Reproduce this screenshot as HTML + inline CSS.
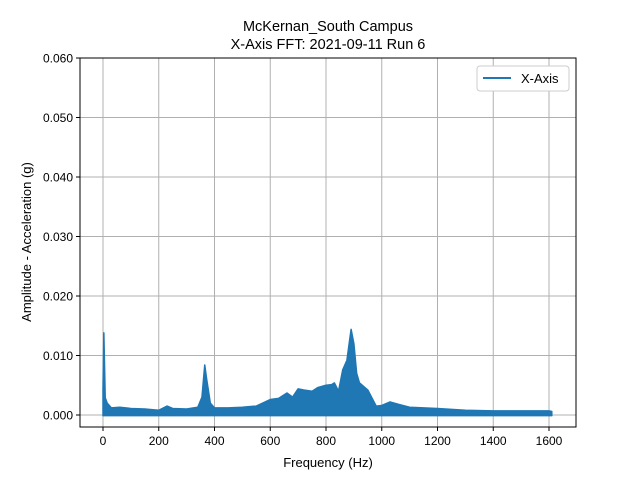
<!DOCTYPE html>
<html><head><meta charset="utf-8"><style>body{margin:0;background:#fff}svg{display:block;font-family:"Liberation Sans","DejaVu Sans",sans-serif}</style></head>
<body>
<svg id="chart" width="640" height="480" xmlns="http://www.w3.org/2000/svg">
<rect width="640" height="480" fill="#fff"/>
<text x="328" y="31" text-anchor="middle" font-size="14.5">McKernan_South Campus</text>
<text x="328" y="49" text-anchor="middle" font-size="14.5">X-Axis FFT: 2021-09-11 Run 6</text>
<g id="grid"></g><g id="series"></g><g id="axes"></g>
<rect x="80" y="58" width="496" height="369" fill="none" stroke="#000" stroke-width="1"/>
<text x="328" y="467" text-anchor="middle" font-size="13">Frequency (Hz)</text>
<text transform="translate(31,242) rotate(-90)" text-anchor="middle" font-size="13">Amplitude - Acceleration (g)</text>
<g>
<rect x="477" y="66" width="92" height="25" rx="3" fill="#fff" stroke="#ccc"/>
<line x1="483" y1="78" x2="511" y2="78" stroke="#1f77b4" stroke-width="2"/>
<text x="521" y="83" font-size="13">X-Axis</text>
</g>
</svg>
<script>
const freqs = [0,3,8,15,30,60,100,150,200,230,250,300,340,355,365,372,385,400,450,500,550,600,630,660,680,700,720,750,770,800,820,830,845,860,875,890,900,910,920,950,980,1000,1030,1060,1100,1150,1200,1300,1400,1500,1600,1610];
const upper = [0.0045,0.0138,0.0029,0.0020,0.0012,0.0013,0.0011,0.0010,0.0008,0.0015,0.0011,0.0010,0.0013,0.0030,0.0084,0.0060,0.0020,0.0012,0.0012,0.0013,0.0015,0.0026,0.0028,0.0037,0.0030,0.0044,0.0042,0.0040,0.0046,0.0050,0.0051,0.0054,0.0040,0.0076,0.0092,0.0144,0.0120,0.0070,0.0054,0.0042,0.0015,0.0016,0.0022,0.0018,0.0013,0.0012,0.0011,0.0008,0.0007,0.0007,0.0007,0.0006];
const lower = [-0.0001,-0.0001,-0.0001,-0.0001,-0.0001,-0.0001,-0.0001,-0.0001,-0.0001,-0.0001,-0.0001,-0.0001,-0.0001,-0.0001,-0.0001,-0.0001,-0.0001,-0.0001,-0.0001,-0.0001,-0.0001,-0.0001,-0.0001,-0.0001,-0.0001,-0.0001,-0.0001,-0.0001,-0.0001,-0.0001,-0.0001,-0.0001,-0.0001,-0.0001,-0.0001,-0.0001,-0.0001,-0.0001,-0.0001,-0.0001,-0.0001,-0.0001,-0.0001,-0.0001,-0.0001,-0.0001,-0.0001,-0.0001,-0.0001,-0.0001,-0.0001,-0.0001];
const xTicks = [0,200,400,600,800,1000,1200,1400,1600];
const yTicks = [0,0.01,0.02,0.03,0.04,0.05,0.06];
const X = f => 103 + f*0.27875;
const Y = v => 415 - v*5950;
const NS = "http://www.w3.org/2000/svg";
function mk(tag, attrs, parent){const e=document.createElementNS(NS,tag);for(const k in attrs)e.setAttribute(k,attrs[k]);parent.appendChild(e);return e;}
const grid=document.getElementById('grid'), axes=document.getElementById('axes'), series=document.getElementById('series');
xTicks.forEach(t=>{
  const g=mk('line',{x1:X(t),x2:X(t),y1:58,y2:427,stroke:'#b0b0b0','stroke-width':1},grid);
  
  
  mk('line',{x1:X(t),x2:X(t),y1:427,y2:431,stroke:'#000'},axes);
  const tx=mk('text',{x:X(t),y:445,'text-anchor':'middle','font-size':12},axes);
  tx.textContent=t;
  
  
});
yTicks.forEach(t=>{
  const g=mk('line',{x1:80,x2:576,y1:Y(t),y2:Y(t),stroke:'#b0b0b0','stroke-width':1},grid);
  
  
  mk('line',{x1:76,x2:80,y1:Y(t),y2:Y(t),stroke:'#000'},axes);
  const tx=mk('text',{x:73,y:Y(t)+4.5,'text-anchor':'end','font-size':12},axes);
  tx.textContent=t.toFixed(3);
  
  
});
let d='M'+freqs.map((f,i)=>X(f).toFixed(2)+','+Y(upper[i]).toFixed(2)).join(' L');
for(let i=freqs.length-1;i>=0;i--) d+=' L'+X(freqs[i]).toFixed(2)+','+Y(lower[i]).toFixed(2);
d+=' Z';
const p=mk('path',{d:d,fill:'#1f77b4',stroke:'#1f77b4','stroke-width':1.5,'stroke-linejoin':'round'},series);


</script>
</body></html>
